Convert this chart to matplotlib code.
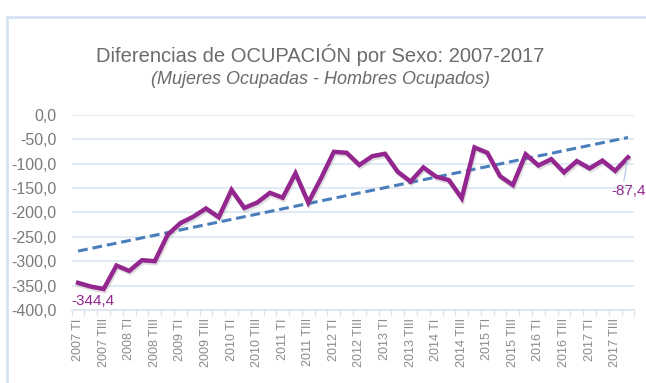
import numpy as np
import matplotlib
matplotlib.use("Agg")
import matplotlib.pyplot as plt
import matplotlib.patheffects as pe
from matplotlib.patches import Rectangle

plt.rcParams['font.family'] = ['Liberation Sans', 'DejaVu Sans']

# Quarterly difference: employed women minus employed men (thousands)
years = list(range(2007, 2018))
quarters = ["TI", "TII", "TIII", "TIV"]
periods = [f"{y} {q}" for y in years for q in quarters]

diferencia = [
    -344.4, -352, -357, -309, -320, -298, -300, -246,
    -222, -209, -192, -210, -154, -191, -180, -160,
    -170, -120, -180, -130, -76, -78, -103, -85,
    -80, -117, -137, -108, -127, -134, -171, -67,
    -78, -126, -144, -81, -104, -91, -118, -95,
    -110, -94, -115, -87.4,
]

yticks = [0, -50, -100, -150, -200, -250, -300, -350, -400]

def fmt(v):
    return f"{v:.1f}".replace(".", ",")

fig = plt.figure(figsize=(6.46, 3.83), dpi=100)
fig.patch.set_facecolor("white")

# chart frame
frame = Rectangle((7 / 646, -0.1), 1.2, 1 - 17 / 383 + 0.1, transform=fig.transFigure,
                  fill=False, edgecolor="#d6e3f3", linewidth=2.0, zorder=0)
fig.patches.append(frame)

ax = fig.add_axes([0.111, 0.1906, 0.871, 0.5099])
x = np.arange(len(periods))

ax.set_xlim(-0.5, len(periods) - 0.5)
ax.set_ylim(-400, 0)

# grid
for v in yticks:
    ax.axhline(v, color="#dce6f2", linewidth=1.2, zorder=1)

# trend line (least squares)
coef = np.polyfit(x, diferencia, 1)
trend = np.polyval(coef, x)
ax.plot(x, trend, linestyle=(0, (3.2, 1.6)), color="#4a7ebb", linewidth=2.2, zorder=2)

# main series with soft shadow
ax.plot(x, diferencia, color="#93278f", linewidth=3.2, solid_joinstyle="miter", zorder=3,
        path_effects=[pe.SimpleLineShadow(offset=(0.8, -1.5), alpha=0.25, shadow_color="gray"),
                      pe.Normal()])

# value labels
ax.annotate(fmt(diferencia[0]), xy=(x[0], diferencia[0]), xytext=(-5, -13),
            textcoords="offset points", ha="left", va="center",
            color="#93278f", fontsize=11, zorder=4)
ax.annotate(fmt(diferencia[-1]), xy=(x[-1], diferencia[-1]), xytext=(-12, -24),
            textcoords="offset points", ha="left", va="center",
            color="#93278f", fontsize=11, zorder=4, annotation_clip=False,
            arrowprops=dict(arrowstyle="-", color="#a9c4e6", linewidth=0.8,
                            shrinkA=0, shrinkB=2, relpos=(0.35, 1.0)))

# axes styling
for s in ["top", "right", "left"]:
    ax.spines[s].set_visible(False)
ax.spines["bottom"].set_color("#d9e4f1")
ax.spines["bottom"].set_linewidth(1.2)

ax.set_yticks(yticks)
ax.set_yticklabels([fmt(v) for v in yticks], color="#7a7a7a", fontsize=11.5)
ax.tick_params(axis="y", length=0, pad=11)

ax.set_xticks(x[::2])
ax.set_xticklabels(periods[::2], rotation=90, color="#8a8a8a", fontsize=9)
ax.set_xticks(np.arange(-0.5, len(periods), 1), minor=True)
ax.tick_params(axis="x", which="major", length=0, pad=6)
ax.tick_params(axis="x", which="minor", length=4, color="#d9e4f1", width=1)

# titles
fig.text(0.496, 1 - 55 / 383, "Diferencias de OCUPACIÓN por Sexo: 2007-2017",
         ha="center", va="center", color="#6b6b6b", fontsize=14.5)
fig.text(0.496, 1 - 79 / 383, "(Mujeres Ocupadas - Hombres Ocupados)",
         ha="center", va="center", color="#6b6b6b", fontsize=13, style="italic")

fig.savefig("out.png", dpi=100, facecolor="white")
